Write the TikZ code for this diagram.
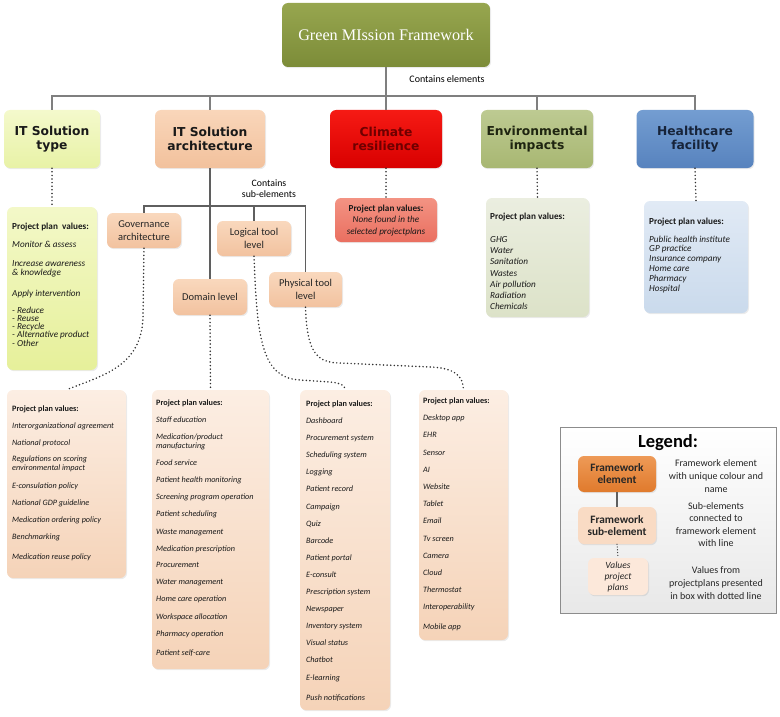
\documentclass[tikz,border=0pt]{standalone}
\usepackage{fontspec}
\setmainfont{Carlito}
\newfontfamily\titlefont{Liberation Serif}
\newfontfamily\headfont{DejaVu Sans}
\usetikzlibrary{shadows}
\definecolor{linegray}{HTML}{7F7F7F}
\definecolor{subgray}{HTML}{5F5F5F}
\definecolor{dotgray}{HTML}{303030}
\definecolor{oliveA}{HTML}{97A64F}
\definecolor{oliveB}{HTML}{7C8C38}
\definecolor{itsA}{HTML}{F4F9CC}
\definecolor{itsB}{HTML}{E8F2A6}
\definecolor{itaA}{HTML}{F9D6BA}
\definecolor{itaB}{HTML}{F2C19C}
\definecolor{climA}{HTML}{F61A14}
\definecolor{climB}{HTML}{D80000}
\definecolor{climT}{HTML}{6E0000}
\definecolor{envA}{HTML}{BDCA92}
\definecolor{envB}{HTML}{A8B772}
\definecolor{envT}{HTML}{1E2410}
\definecolor{hcA}{HTML}{749DD1}
\definecolor{hcB}{HTML}{5783BE}
\definecolor{hcT}{HTML}{17243A}
\definecolor{itsvA}{HTML}{F3F8C8}
\definecolor{itsvB}{HTML}{E6F09A}
\definecolor{climvA}{HTML}{F39383}
\definecolor{climvB}{HTML}{EA6F60}
\definecolor{envvA}{HTML}{EBEEE0}
\definecolor{envvB}{HTML}{DCE2C8}
\definecolor{hcvA}{HTML}{E1EAF5}
\definecolor{hcvB}{HTML}{CADAEC}
\definecolor{subA}{HTML}{F9D8BD}
\definecolor{subB}{HTML}{F2C29F}
\definecolor{valA}{HTML}{FCEEE3}
\definecolor{valB}{HTML}{F5D3B8}
\definecolor{legA}{HTML}{EE9A57}
\definecolor{legB}{HTML}{E07A2C}
\definecolor{leg2}{HTML}{F9DBC4}
\definecolor{leg3}{HTML}{FCE8DA}
\begin{document}
\begin{tikzpicture}[x=1pt,y=-1pt,
  mainline/.style={draw=linegray, line width=1.8pt},
  subline/.style={draw=subgray, line width=1.1pt},
  dotline/.style={draw=dotgray, line width=1.7pt, line cap=round, dash pattern=on 0pt off 3.6pt},
  rbox/.style={rounded corners=6pt, inner sep=0pt, drop shadow={opacity=0.16, shadow xshift=1pt, shadow yshift=-1.2pt}},
  headtxt/.style={font=\headfont\bfseries\fontsize{12.3}{14}\selectfont, align=center},
  subtxt/.style={font=\fontsize{10.5}{12.5}\selectfont, align=center, text=black!85},
  vtxt/.style={anchor=north west, inner sep=0pt, align=left, text=black!90},
  valbox/.style={rbox, top color=valA, bottom color=valB},
  subbox/.style={rbox, subtxt, top color=subA, bottom color=subB, minimum width=74pt, minimum height=35pt},
  legtxt/.style={font=\fontsize{10}{12.7}\selectfont, align=center, text=black!85}
]
\useasboundingbox (0,0) rectangle (780,717);

% title
\node[rbox, top color=oliveA, bottom color=oliveB, minimum width=208pt, minimum height=64pt,
      text=white, font=\titlefont\fontsize{16.2}{18}\selectfont] (title) at (386,35) {Green MIssion Framework};
\coordinate (bus) at (386,96);
\node[font=\fontsize{10}{11}\selectfont] (lbl1) at (447,79) {Contains elements};

% top row
\node[rbox, headtxt, top color=itsA, bottom color=itsB, minimum width=96pt, minimum height=58pt, text=black!90] (its) at (52,139) {IT Solution\\type};
\node[rbox, headtxt, top color=itaA, bottom color=itaB, minimum width=110pt, minimum height=58pt, text=black!90] (ita) at (210,139) {IT Solution\\architecture};
\node[rbox, headtxt, top color=climA, bottom color=climB, minimum width=112pt, minimum height=58pt, text=climT] (clim) at (386,139) {Climate\\resilience};
\node[rbox, headtxt, top color=envA, bottom color=envB, minimum width=112pt, minimum height=58pt, text=envT] (env) at (537,139) {Environmental\\impacts};
\node[rbox, headtxt, top color=hcA, bottom color=hcB, minimum width=117pt, minimum height=58pt, text=hcT] (hc) at (695,139) {Healthcare\\facility};

\draw[mainline] (title.south) -- (bus);
\draw[mainline] (its.north) |- (hc.north |- bus) -- (hc.north);
\draw[mainline] (ita.north) -- (ita.north |- bus);
\draw[mainline] (clim.north) -- (clim.north |- bus);
\draw[mainline] (env.north) -- (env.north |- bus);

% top-row value boxes
\node[rbox, top color=itsvA, bottom color=itsvB, minimum width=90pt, minimum height=163pt] (its-v) at (52,288.5) {};
\node[rbox, top color=climvA, bottom color=climvB, minimum width=102pt, minimum height=44pt] (clim-v) at (386,220) {};
\node[rbox, top color=envvA, bottom color=envvB, minimum width=103pt, minimum height=119pt] (env-v) at (537.5,257.5) {};
\node[rbox, top color=hcvA, bottom color=hcvB, minimum width=104pt, minimum height=112pt] (hc-v) at (696,257) {};

\draw[dotline] (its.south) -- (its-v.north);
\draw[dotline] (clim.south) -- (clim-v.north);
\draw[dotline] (env.south) -- (env-v.north);
\draw[dotline] (hc.south) -- (hc-v.north);

\node[vtxt, font=\fontsize{9.2}{7.8}\selectfont\itshape] (its-t) at (12,222.5) {%
{\upshape\bfseries Project plan\ \ values:}\\[9.2pt]
Monitor \& assess\\[11.2pt]
Increase awareness\\[1.2pt]
\& knowledge\\[12.2pt]
Apply intervention\\[8.2pt]
- Reduce\\
- Reuse\\
- Recycle\\
- Alternative product\\
- Other};

\node[align=center, inner sep=0pt, text=black!90, font=\fontsize{9.2}{11.5}\selectfont\itshape] (clim-t) at (386,220.5) {%
{\upshape\bfseries Project plan values:}\\
None found in the\\
selected projectplans};

\node[vtxt, font=\fontsize{9.2}{11.3}\selectfont\itshape] (env-t) at (490,212.5) {%
{\upshape\bfseries Project plan values:}\\[11.7pt]
GHG\\ Water\\ Sanitation\\ Wastes\\ Air pollution\\ Radiation\\ Chemicals};

\node[vtxt, font=\fontsize{9.2}{9.8}\selectfont\itshape] (hc-t) at (649,217.5) {%
{\upshape\bfseries Project plan values:}\\[8.2pt]
Public health institute\\ GP practice\\ Insurance company\\ Home care\\ Pharmacy\\ Hospital};

% sub-elements
\coordinate (sub) at (210,206);
\node[subbox] (gov) at (144,230.5) {Governance\\architecture};
\node[subbox] (logi) at (254,238.5) {Logical tool\\level};
\node[subbox, minimum height=36pt] (dom) at (210,297) {Domain level};
\node[subbox, minimum width=73pt] (phys) at (305.5,289.5) {Physical tool\\level};
\node[font=\fontsize{9.8}{11.5}\selectfont, align=center] (lbl2) at (269,188.5) {Contains\\sub-elements};

\draw[subline] (ita.south) -- (dom.north);
\draw[subline] (gov.north) |- (phys.north |- sub) -- (phys.north);
\draw[subline] (logi.north) -- (logi.north |- sub);

% bottom value boxes
\node[valbox, minimum width=119pt, minimum height=188pt] (gov-v) at (66.5,484) {};
\node[valbox, minimum width=117pt, minimum height=279pt] (dom-v) at (210.5,529.5) {};
\node[valbox, minimum width=90pt, minimum height=320pt] (logi-v) at (345,550) {};
\node[valbox, minimum width=89pt, minimum height=250pt] (phys-v) at (463.5,515) {};

\draw[dotline] (gov.south) -- (143,318) .. controls (141,368) and (100,376) .. (gov-v.north);
\draw[dotline] (dom.south) -- (dom-v.north);
\draw[dotline] (logi.south) .. controls (257,340) and (262,378) .. (300,380) -- (330,382) .. controls (342,383) and (345,386) .. (logi-v.north);
\draw[dotline] (phys.south) .. controls (307,350) and (315,363) .. (340,363) -- (430,367) .. controls (455,368) and (463,376) .. (phys-v.north);

\node[vtxt, font=\fontsize{8.2}{9}\selectfont\itshape] (gov-t) at (12,405.5) {%
{\upshape\bfseries Project plan values:}\\[8pt]
Interorganizational agreement\\[8pt]
National protocol\\[7pt]
Regulations on scoring\\
environmental impact\\[9pt]
E-consulation policy\\[8pt]
National GDP guideline\\[8pt]
Medication ordering policy\\[8pt]
Benchmarking\\[11pt]
Medication reuse policy};

\node[vtxt, font=\fontsize{8.2}{9}\selectfont\itshape] (dom-t) at (156,399.5) {%
{\upshape\bfseries Project plan values:}\\[8pt]
Staff education\\[8pt]
Medication/product\\
manufacturing\\[8pt]
Food service\\[8pt]
Patient health monitoring\\[8pt]
Screening program operation\\[8pt]
Patient scheduling\\[9pt]
Waste management\\[8pt]
Medication prescription\\[7pt]
Procurement\\[8pt]
Water management\\[8pt]
Home care operation\\[9pt]
Workspace allocation\\[8pt]
Pharmacy operation\\[10pt]
Patient self-care};

\node[vtxt, font=\fontsize{8.2}{17.1}\selectfont\itshape] (logi-t) at (306,400.5) {%
{\upshape\bfseries Project plan values:}\\
Dashboard\\ Procurement system\\ Scheduling system\\ Logging\\ Patient record\\ Campaign\\ Quiz\\
Barcode\\ Patient portal\\ E-consult\\ Prescription system\\ Newspaper\\ Inventory system\\
Visual status\\ Chatbot\\ E-learning\\[3pt] Push notifications};

\node[vtxt, font=\fontsize{8.2}{17.2}\selectfont\itshape] (phys-t) at (423,397.5) {%
{\upshape\bfseries Project plan values:}\\
Desktop app\\ EHR\\ Sensor\\ AI\\ Website\\ Tablet\\ Email\\ Tv screen\\ Camera\\ Cloud\\
Thermostat\\ Interoperability\\[2pt] Mobile app};

% legend
\node[draw=black!45, line width=0.8pt, top color=white, bottom color=black!9, minimum width=216pt, minimum height=186pt, inner sep=0pt,
      drop shadow={opacity=0.15, shadow xshift=1.2pt, shadow yshift=-1.2pt}] (leg) at (668,520) {};
\node[font=\bfseries\fontsize{18.5}{20}\selectfont] (legt) at (668,443) {Legend:};
\node[rbox, top color=legA, bottom color=legB, minimum width=78pt, minimum height=36pt, align=center,
      font=\bfseries\fontsize{11.3}{12}\selectfont, text=black!85] (le1) at (617,474) {Framework\\element};
\node[rbox, fill=leg2, minimum width=78pt, minimum height=37pt, align=center,
      font=\bfseries\fontsize{11.3}{12}\selectfont, text=black!85] (le2) at (617,525.5) {Framework\\sub-element};
\node[rbox, fill=leg3, minimum width=60pt, minimum height=37pt, align=center,
      font=\itshape\fontsize{9.5}{11}\selectfont, text=black!85] (le3) at (618,576.5) {Values\\project\\plans};
\draw[subline] (le1.south) -- (le2.north);
\draw[dotline, line width=1.3pt, dash pattern=on 0pt off 2.8pt] (le2.south) -- (le3.north);
\node[legtxt] (lt1) at (716,476) {Framework element\\with unique colour and\\name};
\node[legtxt, font=\fontsize{10}{12.3}\selectfont] (lt2) at (716,524.5) {Sub-elements\\connected to\\framework element\\with line};
\node[legtxt] (lt3) at (716,583) {Values from\\projectplans presented\\in box with dotted line};
\end{tikzpicture}
\end{document}
